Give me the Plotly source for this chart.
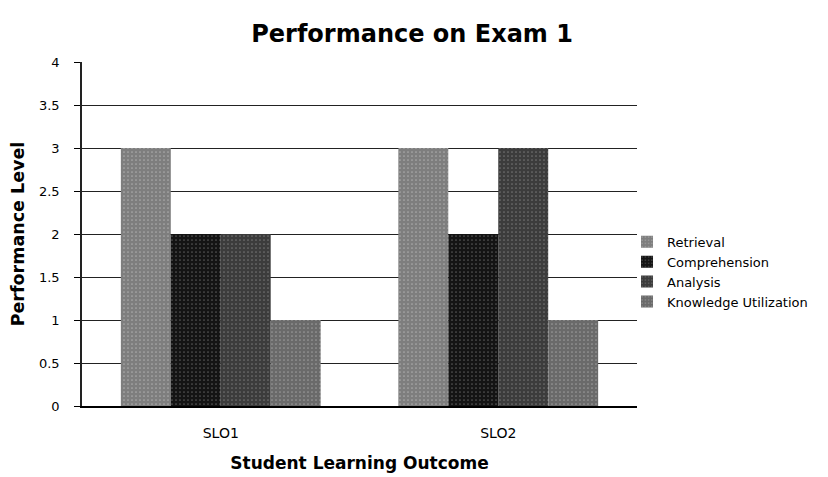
import plotly.graph_objects as go

categories = ["SLO1", "SLO2"]
series_names = ["Retrieval", "Comprehension", "Analysis", "Knowledge Utilization"]
retrieval = [3, 3]
comprehension = [2, 2]
analysis = [2, 3]
knowledge = [1, 1]
y_ticks = [0, 0.5, 1, 1.5, 2, 2.5, 3, 3.5, 4]
y_tick_labels = ["0", "0.5", "1", "1.5", "2", "2.5", "3", "3.5", "4"]

values = [retrieval, comprehension, analysis, knowledge]
colors = ["#7e7e7e", "#141414", "#3c3c3c", "#6a6a6a"]
fg = ["#d8d8d8", "#9a9a9a", "#a8a8a8", "#c8c8c8"]

FONT = "DejaVu Sans"

fig = go.Figure()
for name, vals, c, f in zip(series_names, values, colors, fg):
    fig.add_trace(go.Bar(
        x=categories, y=vals, name=name,
        marker=dict(color=c, line=dict(width=0),
                    pattern=dict(shape=".", fgcolor=f, bgcolor=c, size=4, solidity=0.15)),
    ))

fig.update_layout(
    width=828, height=477,
    margin=dict(l=74, r=199, t=54, b=79, autoexpand=False),
    paper_bgcolor="white", plot_bgcolor="white",
    barmode="group", bargap=0.28, bargroupgap=0,
    title=dict(text="<b>Performance on Exam 1</b>", x=0.488, xref="container", xanchor="center",
               y=0.946, yref="container", yanchor="middle",
               font=dict(family=FONT, size=24, color="black")),
    font=dict(family=FONT, color="black"),
    legend=dict(x=0.982, xanchor="left", y=0.39, yanchor="middle",
                font=dict(family=FONT, size=13, color="black"),
                itemwidth=30, tracegroupgap=0, bgcolor="rgba(0,0,0,0)"),
    showlegend=True,
)

fig.update_xaxes(
    title=dict(text="<b>Student Learning Outcome</b>", font=dict(family=FONT, size=17, color="black"), standoff=18),
    tickfont=dict(family=FONT, size=14, color="black"),
    showline=True, linecolor="black", linewidth=1.5,
    ticks="", showgrid=False, automargin=False, ticklabelstandoff=13,
)
fig.update_yaxes(
    title=dict(text="<b>Performance Level</b>", font=dict(family=FONT, size=17.5, color="black"), standoff=22),
    range=[0, 4], tickvals=y_ticks, ticktext=y_tick_labels,
    tickfont=dict(family=FONT, size=13, color="black"),
    showline=True, linecolor="#222", linewidth=1.5,
    ticks="outside", ticklen=6, tickcolor="black", automargin=False, ticklabelstandoff=12,
    showgrid=True, gridcolor="#222", gridwidth=1.2, zeroline=False,
)

fig.write_html("out.html")
